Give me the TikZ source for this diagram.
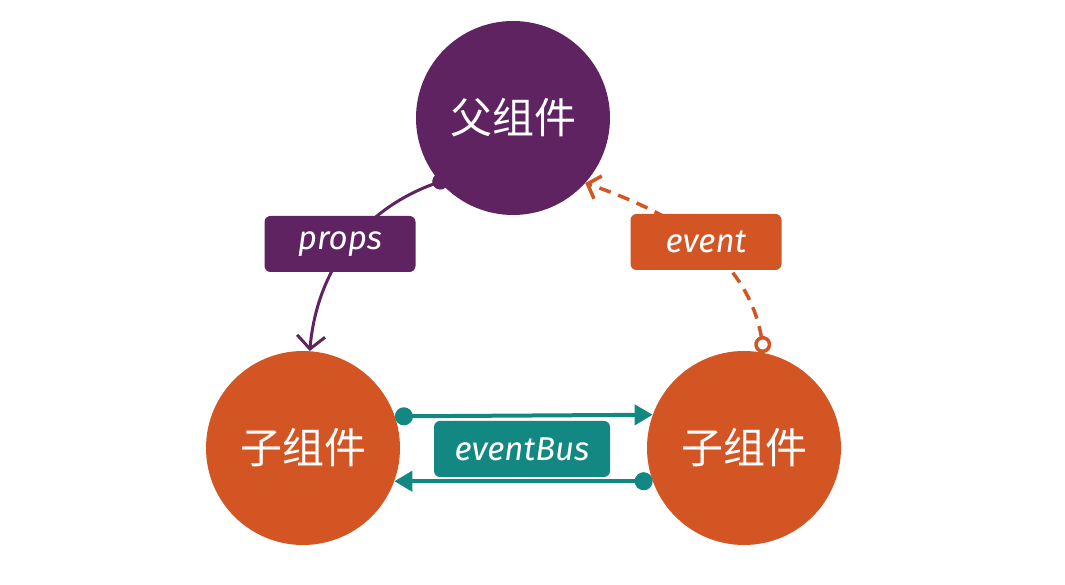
\documentclass[tikz,border=0pt]{standalone}
\usepackage{fontspec}
\setmainfont{Fira Sans}
\newfontfamily\cjk{Noto Sans CJK SC}
\usetikzlibrary{arrows.meta}
\definecolor{grape}{HTML}{5E2360}
\definecolor{rust}{HTML}{D35524}
\definecolor{sea}{HTML}{138782}

\begin{document}
\begin{tikzpicture}[x=1pt,y=1pt,
   comp/.style={circle,minimum size=194pt,inner sep=0pt,text=white,
     font=\cjk\fontsize{42}{50}\selectfont},
   tag/.style={rounded corners=6pt,minimum height=56pt,inner sep=0pt,text=white,
     font=\itshape\fontsize{33}{38}\selectfont}]
   \useasboundingbox (0,0) rectangle (1065,585);

   \node[comp,fill=grape] (p)  at (513,467) {父组件};
   \node[comp,fill=rust]  (c1) at (303,137) {子组件};
   \node[comp,fill=rust]  (c2) at (744,137) {子组件};

   % props / event
   \draw[grape,line width=3pt,
     {Circle[length=16pt]}-{Straight Barb[length=13pt,width=28pt]}]
     ([shift={(223:-8pt)}]p.223) to[out=200,in=85] (c1.86);
   \draw[rust,line width=3.5pt,dash pattern=on 12pt off 8pt,
     {Circle[open,length=17pt]}-{Straight Barb[length=11pt,width=24pt]}]
     (c2.78) to[out=100,in=-19] (p.-42);

   % eventBus
   \draw[sea,line width=4pt,{Circle[length=18pt]}-{Triangle[length=18pt,width=20pt]}]
     (c1.19.3) -- (c2.160.7);
   \draw[sea,line width=4pt,{Circle[length=18pt]}-{Triangle[length=18pt,width=20pt]}]
     (c2.200) -- (c1.-20);

   \node[tag,fill=grape,minimum width=151pt] (lp) at (340,341) {props};
   \node[tag,fill=rust,minimum width=151pt]  (le) at (706,343) {event};
   \node[tag,fill=sea,minimum width=176pt]   (lb) at (522,136) {eventBus};
\end{tikzpicture}
\end{document}
